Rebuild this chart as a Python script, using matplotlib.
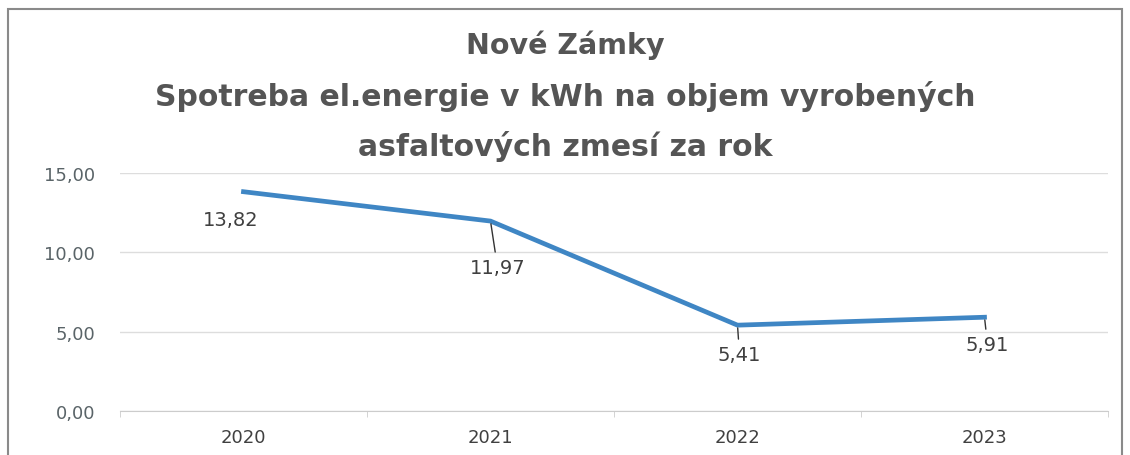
import numpy as np
import matplotlib.pyplot as plt
from matplotlib.patches import Rectangle

years = ['2020', '2021', '2022', '2023']
values = [13.82, 11.97, 5.41, 5.91]
labels = ['13,82', '11,97', '5,41', '5,91']
offsets = [(-13, -28), (7, -46), (2, -29), (3, -27)]   # posun popisov v pixeloch
leader = [False, True, True, True]

plt.rcParams['font.family'] = ['DejaVu Sans']

fig = plt.figure(figsize=(11.3, 4.56), dpi=100)
fig.patches.append(Rectangle((8/1130, -0.05), 1114/1130, 1.05 - 10/456, transform=fig.transFigure,
                             fill=False, edgecolor='#8a8a8a', linewidth=1.5))

ax = fig.add_axes([120/1130, 1 - 412/456, 988/1130, 238/456])
x = np.arange(len(years))
ax.plot(x, values, color='#3f86c4', linewidth=3.4, solid_joinstyle='miter')

for i in range(len(values)):
    ap = dict(arrowstyle='-', color='#333333', lw=1, shrinkA=2, shrinkB=2) if leader[i] else None
    ax.annotate(labels[i], (x[i], values[i]), xytext=offsets[i], textcoords='offset pixels',
                ha='center', va='center', fontsize=14, color='#404040', arrowprops=ap)

ax.set_xlim(-0.5, 3.5)
ax.set_ylim(0, 15)
ax.set_yticks([0, 5, 10, 15])
ax.set_yticklabels(['0,00', '5,00', '10,00', '15,00'], color='#5a6468', fontsize=13)
ax.set_xticks(x)
ax.set_xticklabels(years, color='#404040', fontsize=13)
ax.set_xticks([-0.5, 0.5, 1.5, 2.5, 3.5], minor=True)
ax.tick_params(axis='x', which='major', length=0, pad=12)
ax.tick_params(axis='x', which='minor', length=4, color='#cccccc')
ax.tick_params(axis='y', length=0, pad=18)
for s in ['top', 'right', 'left']:
    ax.spines[s].set_visible(False)
ax.spines['bottom'].set_color('#cccccc')
ax.grid(axis='y', color='#dddddd', linewidth=1)
ax.set_axisbelow(True)

fig.text(0.5, 1 - 45/456, 'Nové Zámky', ha='center', va='center', fontsize=20.5,
         fontweight='bold', color='#555555')
fig.text(0.5, 1 - 96/456, 'Spotreba el.energie v kWh na objem vyrobených', ha='center', va='center',
         fontsize=21.5, fontweight='bold', color='#555555')
fig.text(0.5, 1 - 146/456, 'asfaltových zmesí za rok', ha='center', va='center', fontsize=21.5,
         fontweight='bold', color='#555555')

fig.savefig('out.png', dpi=100)
